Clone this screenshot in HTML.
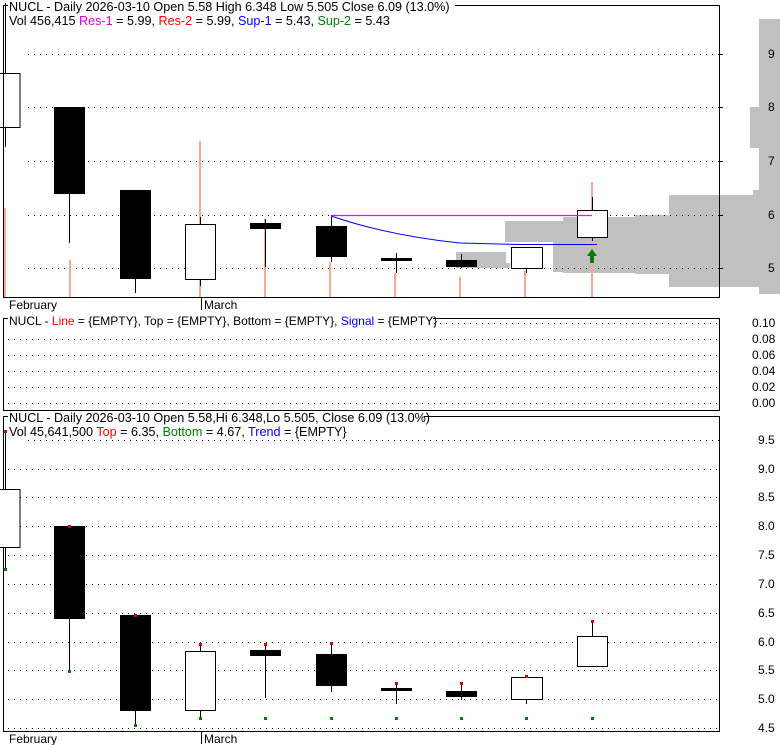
<!DOCTYPE html><html><head><style>body{margin:0;background:#fff}svg{display:block}text{font-family:"Liberation Sans",sans-serif;font-size:12px}.t{font-size:12.6px}</style></head><body>
<svg width="780" height="745" xmlns="http://www.w3.org/2000/svg">
<rect width="780" height="745" fill="#fff"/>
<g fill="#c0c0c0">
<rect x="759" y="19" width="21" height="275"/>
<rect x="750" y="107" width="10" height="41"/>
<rect x="669" y="195" width="111" height="92"/>
<rect x="753" y="190" width="27" height="10"/>
<rect x="635" y="215" width="40" height="59"/>
<rect x="563" y="217" width="80" height="56"/>
<rect x="505" y="221" width="60" height="21"/>
<rect x="553" y="242" width="20" height="30"/>
<rect x="456" y="252" width="50" height="16"/>
<rect x="490" y="263" width="20" height="5"/>
<rect x="687" y="274" width="93" height="13"/>
<rect x="762" y="285" width="18" height="9"/>
</g>
<g stroke="#000" stroke-dasharray="1,5" stroke-width="1">
<line x1="28" y1="54.5" x2="719" y2="54.5"/><line x1="28" y1="107.5" x2="719" y2="107.5"/><line x1="28" y1="161.5" x2="719" y2="161.5"/><line x1="28" y1="215.5" x2="719" y2="215.5"/><line x1="28" y1="268.5" x2="719" y2="268.5"/>
<line x1="8" y1="323.5" x2="719" y2="323.5"/><line x1="8" y1="339.5" x2="719" y2="339.5"/><line x1="8" y1="355.5" x2="719" y2="355.5"/><line x1="8" y1="371.5" x2="719" y2="371.5"/><line x1="8" y1="387.5" x2="719" y2="387.5"/><line x1="8" y1="403.5" x2="719" y2="403.5"/>
<line x1="28" y1="440.5" x2="719" y2="440.5"/><line x1="8" y1="469.5" x2="719" y2="469.5"/><line x1="8" y1="497.5" x2="719" y2="497.5"/><line x1="8" y1="526.5" x2="719" y2="526.5"/><line x1="8" y1="555.5" x2="719" y2="555.5"/><line x1="8" y1="584.5" x2="719" y2="584.5"/><line x1="8" y1="613.5" x2="719" y2="613.5"/><line x1="8" y1="642.5" x2="719" y2="642.5"/><line x1="8" y1="670.5" x2="719" y2="670.5"/><line x1="8" y1="699.5" x2="719" y2="699.5"/><line x1="8" y1="728.5" x2="719" y2="728.5"/>
</g>
<g stroke="#f8a890" stroke-width="2">
<line x1="5" y1="208" x2="5" y2="297"/><line x1="70" y1="260" x2="70" y2="297"/><line x1="200" y1="141" x2="200" y2="297"/><line x1="265" y1="219" x2="265" y2="297"/><line x1="330" y1="262" x2="330" y2="297"/><line x1="395" y1="273" x2="395" y2="297"/><line x1="460" y1="277" x2="460" y2="297"/><line x1="525" y1="270" x2="525" y2="297"/><line x1="592" y1="182" x2="592" y2="297"/>
</g>
<g stroke="#000" stroke-width="1">
<line x1="5.5" y1="3" x2="5.5" y2="147"/><rect x="-1" y="73.5" width="21" height="54" fill="#fff"/>
<line x1="69.5" y1="107" x2="69.5" y2="243"/><rect x="54.5" y="107.5" width="30" height="86" fill="#000"/>
<line x1="135.5" y1="190" x2="135.5" y2="293"/><rect x="120.5" y="190.5" width="30" height="88" fill="#000"/>
<line x1="200.5" y1="217" x2="200.5" y2="286"/><rect x="185.5" y="224.5" width="30" height="55" fill="#fff"/>
<line x1="265.5" y1="219" x2="265.5" y2="267"/><rect x="250.5" y="223.5" width="30" height="5" fill="#000"/>
<line x1="331.5" y1="217" x2="331.5" y2="262"/><rect x="316.5" y="226.5" width="30" height="30" fill="#000"/>
<line x1="396.5" y1="253" x2="396.5" y2="273"/><rect x="381.5" y="258.5" width="30" height="2" fill="#000"/>
<line x1="461.5" y1="254" x2="461.5" y2="268"/><rect x="446.5" y="260.5" width="30" height="6" fill="#000"/>
<line x1="526.5" y1="247" x2="526.5" y2="273"/><rect x="511.5" y="247.5" width="31" height="21" fill="#fff"/>
<line x1="592.5" y1="197" x2="592.5" y2="241"/><rect x="577.5" y="210.5" width="30" height="27" fill="#fff"/>
</g>
<line x1="331" y1="215.5" x2="592" y2="215.5" stroke="#ff00ff" stroke-width="1.2"/>
<path d="M331 216 Q390 236 460 243 L520 244.5 L597 244.5" fill="none" stroke="#0000ff" stroke-width="1"/>
<path d="M592 249 L597 256 L594 256 L594 263 L590 263 L590 256 L587 256 Z" fill="#008000"/>
<g fill="none" stroke="#000" stroke-width="1">
<rect x="3.5" y="5.5" width="716" height="292"/>
<rect x="3.5" y="318.5" width="716" height="92"/>
<rect x="3.5" y="416.5" width="716" height="315"/>
</g>
<g stroke="#000">
<line x1="719" y1="54.5" x2="723" y2="54.5"/><line x1="719" y1="107.5" x2="723" y2="107.5"/><line x1="719" y1="161.5" x2="723" y2="161.5"/><line x1="719" y1="215.5" x2="723" y2="215.5"/><line x1="719" y1="268.5" x2="723" y2="268.5"/>
<line x1="201.5" y1="297" x2="201.5" y2="310"/><line x1="201.5" y1="731" x2="201.5" y2="744"/>
</g>
<g stroke="#000" stroke-width="1">
<line x1="5.5" y1="431" x2="5.5" y2="569"/><rect x="-1" y="489.5" width="21" height="58" fill="#fff"/>
<line x1="69.5" y1="526" x2="69.5" y2="671"/><rect x="54.5" y="526.5" width="30" height="92" fill="#000"/>
<line x1="135.5" y1="615" x2="135.5" y2="725"/><rect x="120.5" y="615.5" width="30" height="95" fill="#000"/>
<line x1="200.5" y1="644" x2="200.5" y2="718"/><rect x="185.5" y="651.5" width="30" height="59" fill="#fff"/>
<line x1="265.5" y1="644" x2="265.5" y2="698"/><rect x="250.5" y="650.5" width="30" height="5" fill="#000"/>
<line x1="331.5" y1="643" x2="331.5" y2="692"/><rect x="316.5" y="654.5" width="30" height="31" fill="#000"/>
<line x1="396.5" y1="683" x2="396.5" y2="704"/><rect x="381.5" y="688.5" width="30" height="2" fill="#000"/>
<line x1="461.5" y1="683" x2="461.5" y2="700"/><rect x="446.5" y="691.5" width="30" height="5" fill="#000"/>
<line x1="526.5" y1="676" x2="526.5" y2="704"/><rect x="511.5" y="677.5" width="31" height="22" fill="#fff"/>
<line x1="592.5" y1="621" x2="592.5" y2="667"/><rect x="577.5" y="636.5" width="30" height="30" fill="#fff"/>
</g>
<g fill="#e00000">
<rect x="4" y="430" width="3" height="3"/><rect x="68" y="525" width="3" height="3"/><rect x="134" y="614" width="3" height="3"/><rect x="199" y="643" width="3" height="3"/><rect x="264" y="643" width="3" height="3"/><rect x="330" y="642" width="3" height="3"/><rect x="395" y="682" width="3" height="3"/><rect x="460" y="682" width="3" height="3"/><rect x="525" y="675" width="3" height="3"/><rect x="591" y="620" width="3" height="3"/>
</g>
<g fill="#008000">
<rect x="4" y="568" width="3" height="3"/><rect x="68" y="670" width="3" height="3"/><rect x="134" y="724" width="3" height="3"/><rect x="199" y="717" width="3" height="3"/><rect x="264" y="717" width="3" height="3"/><rect x="330" y="717" width="3" height="3"/><rect x="395" y="717" width="3" height="3"/><rect x="460" y="717" width="3" height="3"/><rect x="525" y="717" width="3" height="3"/><rect x="591" y="717" width="3" height="3"/>
</g>
<rect x="8" y="0" width="447" height="13" fill="#fff"/>
<text class="t" x="9" y="11">NUCL - Daily 2026-03-10 Open 5.58  High 6.348  Low 5.505  Close 6.09 (13.0%)</text>
<text class="t" x="9" y="25">Vol 456,415 <tspan fill="#e000e0">Res-1</tspan> = 5.99, <tspan fill="#ff0000">Res-2</tspan> = 5.99, <tspan fill="#0000ff">Sup-1</tspan> = 5.43, <tspan fill="#008000">Sup-2</tspan> = 5.43</text>
<rect x="8" y="313" width="425" height="13" fill="#fff"/>
<text x="9" y="325">NUCL - <tspan fill="#ff0000">Line</tspan> = {EMPTY}, Top = {EMPTY}, Bottom = {EMPTY}, <tspan fill="#0000ff">Signal</tspan> = {EMPTY}</text>
<rect x="8" y="411" width="416" height="13" fill="#fff"/>
<text class="t" x="9" y="422">NUCL - Daily 2026-03-10 Open 5.58,Hi 6.348,Lo 5.505, Close 6.09 (13.0%)</text>
<text class="t" x="9" y="436">Vol 45,641,500 <tspan fill="#ff0000">Top</tspan> = 6.35, <tspan fill="#008000">Bottom</tspan> = 4.67, <tspan fill="#0000ff">Trend</tspan> = {EMPTY}</text>
<g>
<text x="768" y="58">9</text><text x="768" y="111">8</text><text x="768" y="165">7</text><text x="768" y="219">6</text><text x="768" y="272">5</text>
<text x="752" y="327">0.10</text><text x="752" y="343">0.08</text><text x="752" y="359">0.06</text><text x="752" y="375">0.04</text><text x="752" y="391">0.02</text><text x="752" y="407">0.00</text>
<text x="758" y="444">9.5</text><text x="758" y="473">9.0</text><text x="758" y="501">8.5</text><text x="758" y="530">8.0</text><text x="758" y="559">7.5</text><text x="758" y="588">7.0</text><text x="758" y="617">6.5</text><text x="758" y="646">6.0</text><text x="758" y="674">5.5</text><text x="758" y="703">5.0</text><text x="758" y="732">4.5</text>
</g>
<text x="9" y="309">February</text><text x="204" y="309">March</text>
<text x="9" y="743">February</text><text x="204" y="743">March</text>
</svg>
</body></html>
